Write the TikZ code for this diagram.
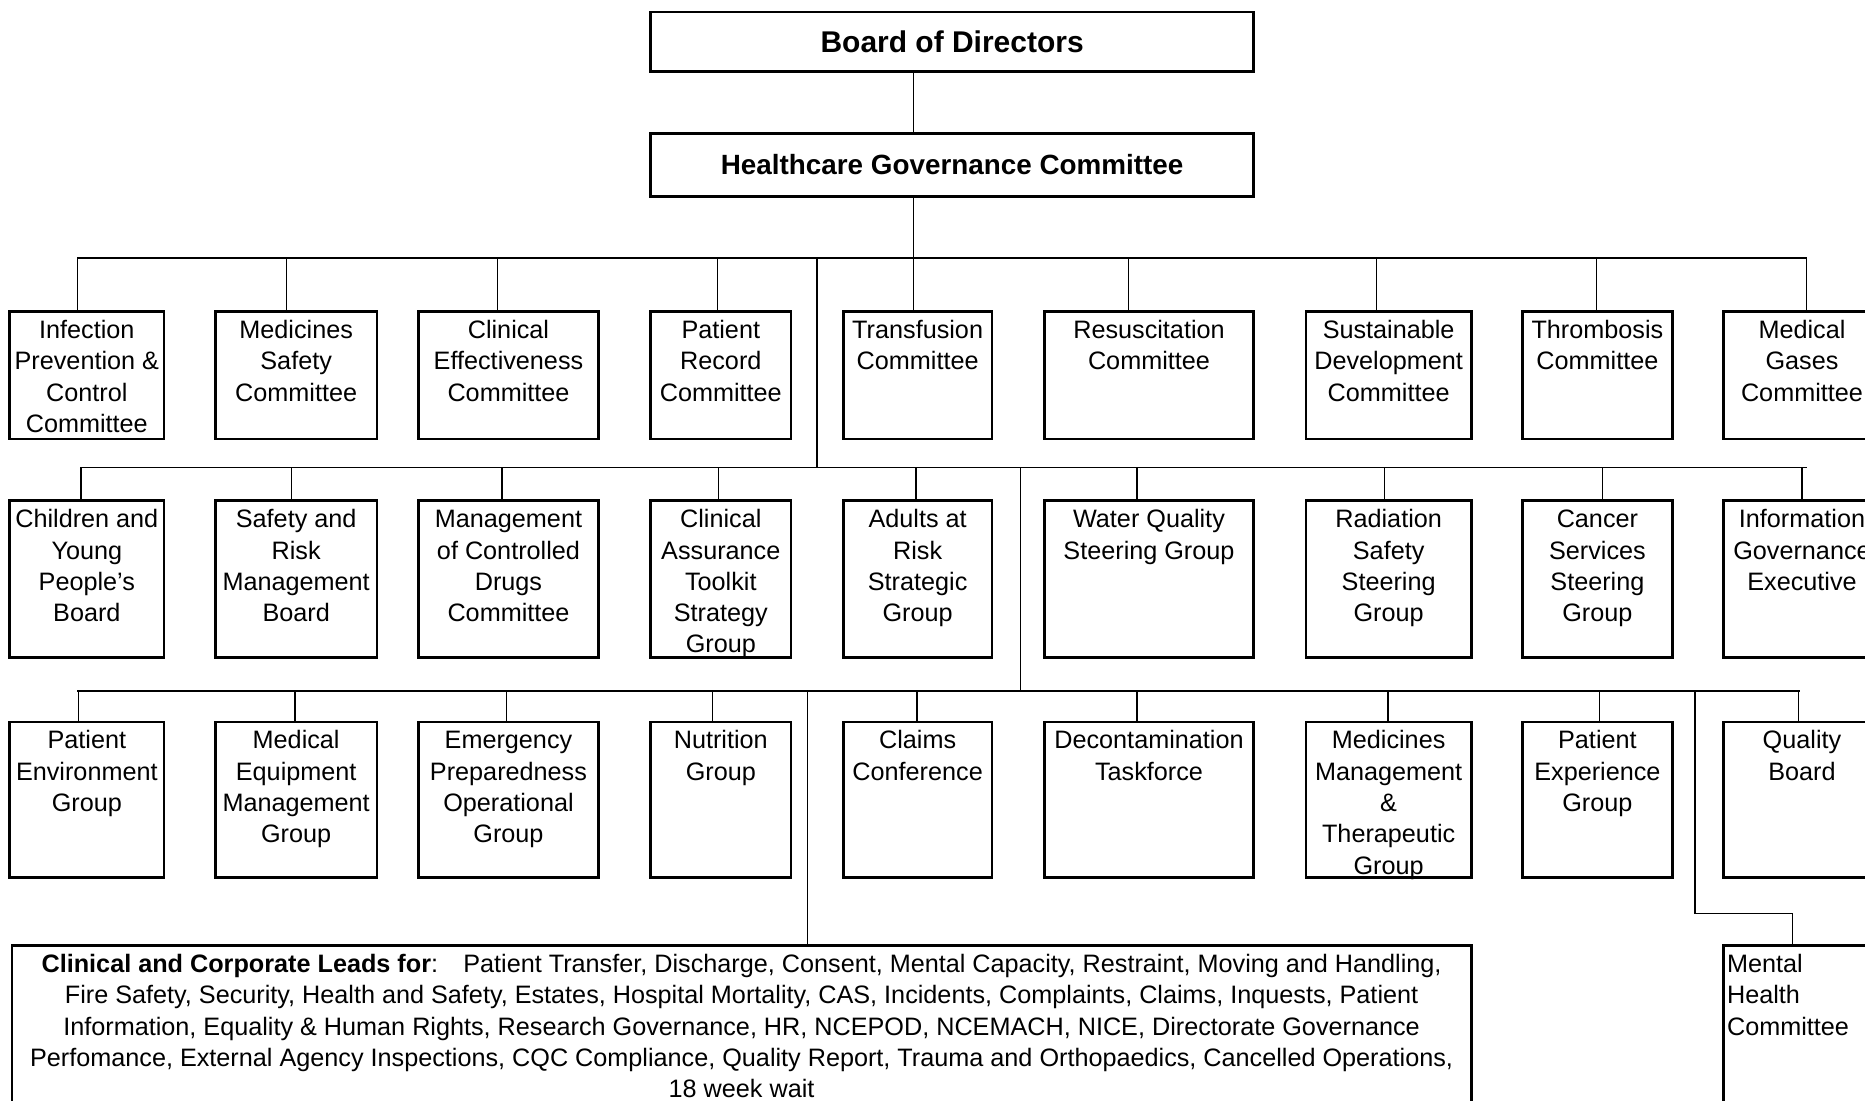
\documentclass[tikz,border=0pt]{standalone}
\usepackage{fontspec}
\setmainfont{Liberation Sans}
\newlength\upx
\setlength\upx{0.5pt}
\newcommand\fl{\rule{0pt}{11.35pt}}
\newcommand\bxt[3]{\parbox[t][#2\upx][t]{#1\upx}{\centering\fl #3}}
\newcommand\drop[3]{\draw[conn] ([xshift=#2\upx]#1.north) -- ([xshift=#2\upx]#1.north |- #3);}
\newcommand\sq{{\char"0027}}
\tikzset{
  box/.style={draw, line width=1.1pt, inner sep=0pt, outer sep=0pt, anchor=north west,
    font=\fontsize{10.6pt}{13.15pt}\selectfont},
  topbox/.style={draw, line width=1.1pt, inner sep=0pt, outer sep=0pt, anchor=north west,
    minimum width=253.5pt, align=center},
  conn/.style={draw, line width=0.55pt}
}
\begin{document}
\begin{tikzpicture}[x=0.5pt, y=-0.5pt]
\useasboundingbox (0,0) rectangle (1568,925);
\clip (0,0) rectangle (1568,925);
\fill[white] (0,0) rectangle (1568,925);

% top boxes
\node[topbox, minimum height=25pt, font=\fontsize{12.6pt}{15pt}\selectfont\bfseries] (bod) at (547,10) {Board of Directors};
\node[topbox, minimum height=26.5pt, font=\fontsize{11.7pt}{14pt}\selectfont\bfseries] (hgc) at (547,112) {Healthcare Governance Committee};

% row 1
\node[box] (c1) at (8,262) {\bxt{130}{107}{Infection\\Prevention \&\\Control\\Committee}};
\node[box] (c2) at (181,262) {\bxt{136}{107}{Medicines\\Safety\\Committee}};
\node[box] (c3) at (352,262) {\bxt{151}{107}{Clinical\\Effectiveness\\Committee}};
\node[box] (c4) at (547,262) {\bxt{118}{107}{Patient\\Record\\Committee}};
\node[box] (c5) at (709,262) {\bxt{125}{107}{Transfusion\\Committee}};
\node[box] (c6) at (878,262) {\bxt{176}{107}{Resuscitation\\Committee}};
\node[box] (c7) at (1098,262) {\bxt{139}{107}{Sustainable\\Development\\Committee}};
\node[box] (c8) at (1280,262) {\bxt{126}{107}{Thrombosis\\Committee}};
\node[box] (c9) at (1449,262) {\bxt{132}{107}{Medical\\Gases\\Committee}};

% row 2
\node[box] (g1) at (8,421) {\bxt{130}{132}{Children and\\Young\\People\sq s\\Board}};
\node[box] (g2) at (181,421) {\bxt{136}{132}{Safety and\\Risk\\Management\\Board}};
\node[box] (g3) at (352,421) {\bxt{151}{132}{Management\\of Controlled\\Drugs\\Committee}};
\node[box] (g4) at (547,421) {\bxt{118}{132}{Clinical\\Assurance\\Toolkit\\Strategy\\Group}};
\node[box] (g5) at (709,421) {\bxt{125}{132}{Adults at\\Risk\\Strategic\\Group}};
\node[box] (g6) at (878,421) {\bxt{176}{132}{Water Quality\\Steering Group}};
\node[box] (g7) at (1098,421) {\bxt{139}{132}{Radiation\\Safety\\Steering\\Group}};
\node[box] (g8) at (1280,421) {\bxt{126}{132}{Cancer\\Services\\Steering\\Group}};
\node[box] (g9) at (1449,421) {\bxt{132}{132}{Information\\Governance\\Executive}};

% row 3
\node[box] (p1) at (8,607) {\bxt{130}{131}{Patient\\Environment\\Group}};
\node[box] (p2) at (181,607) {\bxt{136}{131}{Medical\\Equipment\\Management\\Group}};
\node[box] (p3) at (352,607) {\bxt{151}{131}{Emergency\\Preparedness\\Operational\\Group}};
\node[box] (p4) at (547,607) {\bxt{118}{131}{Nutrition\\Group}};
\node[box] (p5) at (709,607) {\bxt{125}{131}{Claims\\Conference}};
\node[box] (p6) at (878,607) {\bxt{176}{131}{Decontamination\\Taskforce}};
\node[box] (p7) at (1098,607) {\bxt{139}{131}{Medicines\\Management\\\&\\Therapeutic\\Group}};
\node[box] (p8) at (1280,607) {\bxt{126}{131}{Patient\\Experience\\Group}};
\node[box] (p9) at (1449,607) {\bxt{132}{131}{Quality\\Board}};

% bottom row
\node[box] (leads) at (10,795) {\bxt{1227}{140}{\textbf{Clinical and Corporate Leads for}:\quad Patient Transfer, Discharge, Consent, Mental Capacity, Restraint, Moving and Handling,\\Fire Safety, Security, Health and Safety, Estates, Hospital Mortality, CAS, Incidents, Complaints, Claims, Inquests, Patient\\Information, Equality \& Human Rights, Research Governance, HR, NCEPOD, NCEMACH, NICE, Directorate Governance\\Perfomance, External Agency Inspections, CQC Compliance, Quality Report, Trauma and Orthopaedics, Cancelled Operations,\\18 week wait}};
\node[box] (mh) at (1449,795) {\parbox[t][140\upx][t]{132\upx}{\raggedright\leftskip=3\upx\fl Mental\\Health\\Committee}};

% buses
\coordinate (spine) at (768,217);
\coordinate (b1l) at (65,217);
\coordinate (b1r) at (1519,217);
\coordinate (b2l) at (68,393);
\coordinate (b2r) at (1519,393);
\coordinate (b3l) at (65,581);
\coordinate (b3r) at (1513,581);
\draw[conn] (bod.south -| spine) -- (hgc.north -| spine);
\draw[conn] (hgc.south -| spine) -- (spine);
\draw[conn] (b1l) -- (b1r);
\draw[conn] (b2l) -- (b2r);
\draw[conn] (b3l) -- (b3r);

% drops row 1
\drop{c1}{-8}{b1l}
\drop{c2}{-8}{b1l}
\drop{c3}{-9.5}{b1l}
\drop{c4}{-3}{b1l}
\drop{c5}{-3.5}{b1l}
\drop{c6}{-17}{b1l}
\drop{c7}{-10.5}{b1l}
\drop{c8}{-1}{b1l}
\drop{c9}{4}{b1l}
% drops row 2
\drop{g1}{-5}{b2l}
\drop{g2}{-4}{b2l}
\drop{g3}{-5.5}{b2l}
\drop{g4}{-2}{b2l}
\drop{g5}{-1.5}{b2l}
\drop{g6}{-10}{b2l}
\drop{g7}{-3.5}{b2l}
\drop{g8}{4}{b2l}
\drop{g9}{0}{b2l}
% drops row 3
\drop{p1}{-7}{b3l}
\drop{p2}{-1}{b3l}
\drop{p3}{-1.5}{b3l}
\drop{p4}{-7}{b3l}
\drop{p5}{-0.5}{b3l}
\drop{p6}{-10}{b3l}
\drop{p7}{-0.5}{b3l}
\drop{p8}{2}{b3l}
\drop{p9}{-3}{b3l}

% cross links
\coordinate (k1) at (687,217);
\draw[conn] (k1) -- (k1 |- b2l);
\coordinate (k2) at (858,393);
\draw[conn] (k2) -- (k2 |- b3l);
\coordinate (k3) at (679,581);
\draw[conn] (k3) -- (leads.north -| k3);
\coordinate (k4) at (1425,581);
\coordinate (k5) at (1425,768);
\draw[conn] (k4) -- (k5) -- ([xshift=-8\upx]mh.north |- k5) -- ([xshift=-8\upx]mh.north);
\end{tikzpicture}
\end{document}
